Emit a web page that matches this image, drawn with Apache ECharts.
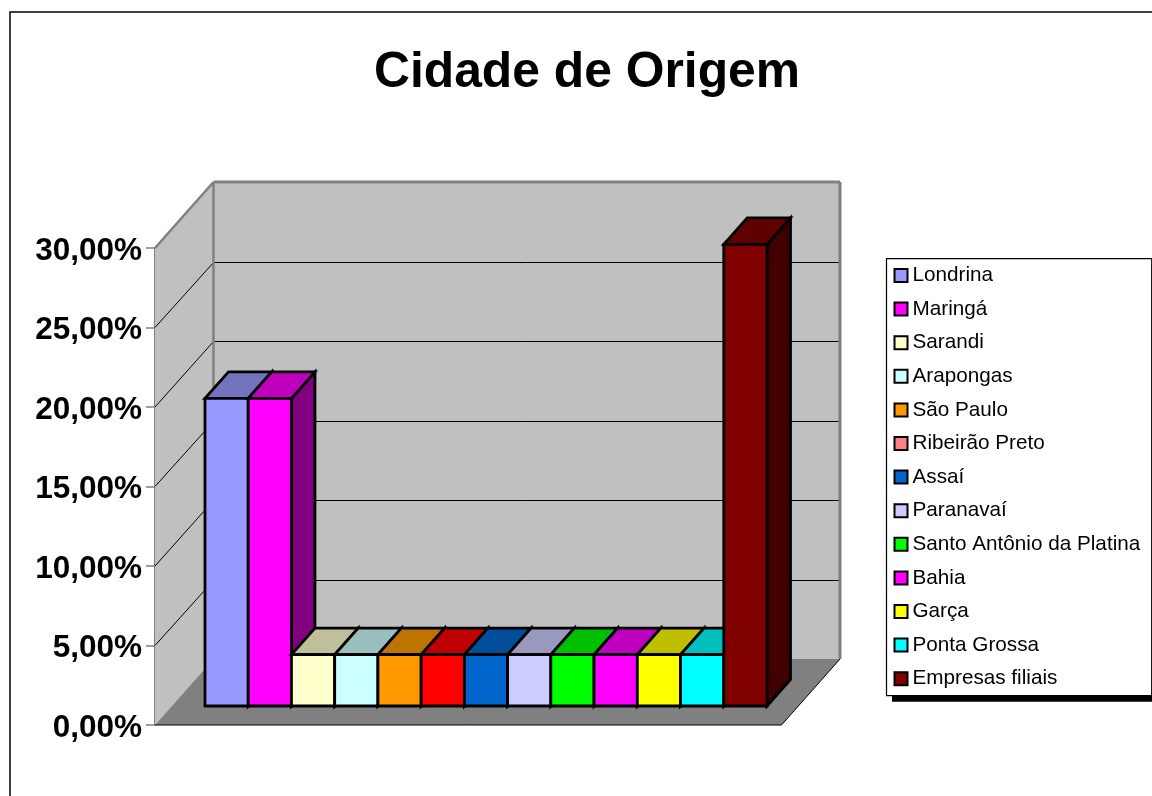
<!DOCTYPE html>
<html><head><meta charset="utf-8">
<style>html,body{margin:0;padding:0;background:#fff}#c{width:1152px;height:796px}</style>
<script src="https://cdn.jsdelivr.net/npm/echarts@6/dist/echarts.min.js"></script>
</head><body><div id="c"></div>
<script>
const cities = ['Londrina','Maringá','Sarandi','Arapongas','São Paulo','Ribeirão Preto','Assaí','Paranavaí','Santo Antônio da Platina','Bahia','Garça','Ponta Grossa','Empresas filiais'];
const shares = [19.35,19.35,3.23,3.23,3.23,3.23,3.23,3.23,3.23,3.23,3.23,3.23,29.03];
const barColors = ['#9999FF','#FF00FF','#FFFFCC','#CCFFFF','#FF9900','#FF0000','#0066CC','#CCCCFF','#00FF00','#FF00FF','#FFFF00','#00FFFF','#800000'];
const legendColors = ['#9999FF','#FF00FF','#FFFFCC','#CCFFFF','#FF9900','#FF8080','#0066CC','#CCCCFF','#00FF00','#FF00FF','#FFFF00','#00FFFF','#800000'];
const yTicks = [5,10,15,20,25,30];

const wallDepth = [58.5,-66], barDepth = [23.5,-26.5];
function shade(hex,f){const n=parseInt(hex.slice(1),16);
  return 'rgb('+[(n>>16)&255,(n>>8)&255,n&255].map(c=>Math.round(c*f)).join(',')+')';}

const chart = echarts.init(document.getElementById('c'));

function renderWalls(params, api){
  const bl = api.coord([0,0]), tr = api.coord([1,30]);
  const [dx,dy] = wallDepth;
  const poly=(pts,fill)=>({type:'polygon',shape:{points:pts},style:{fill:fill,stroke:null}});
  const line=(a,b,c,w)=>({type:'line',shape:{x1:a[0],y1:a[1],x2:b[0],y2:b[1]},style:{stroke:c,lineWidth:w}});
  const L=bl[0],R=tr[0],B=bl[1],T=tr[1];
  const kids=[
    poly([[L+dx,B+dy],[R+dx,B+dy],[R+dx,T+dy],[L+dx,T+dy]],'#C0C0C0'),
    poly([[L,B],[L+dx,B+dy],[L+dx,T+dy],[L,T]],'#C0C0C0'),
    poly([[L,B],[R,B],[R+dx,B+dy],[L+dx,B+dy]],'#808080')
  ];
  yTicks.slice(0,-1).forEach(v=>{
    const p=api.coord([0,v]);
    const yb=Math.round(p[1]+dy)+0.5;
    kids.push(line([p[0],p[1]],[p[0]+dx,yb],'#000',1));
    kids.push(line([p[0]+dx,yb],[R+dx,yb],'#000',1));
  });
  kids.push(line([L,B],[R,B],'#000',1));
  kids.push(line([R,B],[R+dx,B+dy],'#000',1));
  kids.push(line([L,T],[L+dx,T+dy],'#808080',2.5));
  kids.push(line([L+dx,T+dy],[R+dx,T+dy],'#808080',3));
  kids.push(line([L+dx,T+dy],[L+dx,B+dy],'#808080',2.5));
  kids.push(line([R+dx,T+dy],[R+dx,B+dy],'#808080',3));
  return {type:'group',children:kids};
}

function makeBar(i){
  return function(params, api){
    const idx=api.value(0), v=api.value(1);
    const base=api.coord([idx,0]), top=api.coord([idx,v]);
    const w=api.size([1,0])[0];
    const x0=base[0]-w/2, x1=base[0]+w/2, yb=base[1], yt=top[1];
    const [dx,dy]=barDepth;
    const col=barColors[i];
    const st=f=>({fill:f,stroke:'#000',lineWidth:2.8,lineJoin:'miter'});
    return {type:'group',children:[
      {type:'polygon',shape:{points:[[x1,yb],[x1+dx,yb+dy],[x1+dx,yt+dy],[x1,yt]]},style:st(shade(col,0.5))},
      {type:'polygon',shape:{points:[[x0,yt],[x1,yt],[x1+dx,yt+dy],[x0+dx,yt+dy]]},style:st(shade(col,0.75))},
      {type:'rect',shape:{x:x0,y:yt,width:w,height:yb-yt},style:st(col)}
    ]};
  };
}

const barSeries = cities.map((name,i)=>({
  type:'custom',name:name,xAxisIndex:1,yAxisIndex:1,
  coordinateSystem:'cartesian2d',z:5+i*0.01,silent:true,
  itemStyle:{color:legendColors[i]},
  encode:{x:0,y:1},
  data:[[i,shares[i]]],
  renderItem:makeBar(i)
}));

chart.setOption({
  animation:false,
  backgroundColor:'#fff',
  textStyle:{fontFamily:'"Liberation Sans"'},
  title:{text:'Cidade de Origem',left:582,top:43,textAlign:'center',
    textStyle:{fontFamily:'"Liberation Sans"',fontWeight:'bold',fontSize:49.8,color:'#000'}},
  graphic:[
    {type:'rect',z:-10,shape:{x:10,y:12,width:1300,height:900},style:{fill:null,stroke:'#000',lineWidth:1.5}},
    {type:'rect',z:0,shape:{x:892,y:264.7,width:300,height:437},style:{fill:'#000',stroke:null}}
  ],
  grid:[
    {left:155,top:248,width:626.5,height:477},
    {left:205,top:229,width:562,height:477}
  ],
  xAxis:[
    {gridIndex:0,type:'value',min:0,max:1,show:false},
    {gridIndex:1,type:'category',data:cities,show:false}
  ],
  yAxis:[
    {gridIndex:0,type:'value',min:0,max:30,interval:5,
     axisLine:{show:true,lineStyle:{color:'#808080',width:2}},
     axisTick:{show:true,length:9,lineStyle:{color:'#808080',width:1.5}},
     splitLine:{show:false},
     axisLabel:{margin:13,color:'#000',fontFamily:'"Liberation Sans"',fontWeight:'bold',fontSize:31.5,
       verticalAlign:'top',padding:[-13,0,0,0],
       formatter:v=>v.toFixed(2).replace('.',',')+'%'}},
    {gridIndex:1,type:'value',min:0,max:30,interval:5,show:false}
  ],
  legend:{
    orient:'vertical',left:886.5,top:258.7,z:6,
    padding:[6.3,11.5,6.5,7],
    itemWidth:13,itemHeight:13,itemGap:12.6,
    icon:'rect',selectedMode:false,
    backgroundColor:'#fff',borderColor:'#000',borderWidth:1.2,
    itemStyle:{borderColor:'#000',borderWidth:2},
    textStyle:{fontFamily:'"Liberation Sans"',fontSize:20.7,color:'#000'},
    data:cities.map(n=>({name:n}))
  },
  series:[{
    type:'custom',name:'walls',xAxisIndex:0,yAxisIndex:0,z:1,silent:true,
    encode:{x:0,y:1},data:[[0,0]],renderItem:renderWalls
  }].concat(barSeries)
});
</script></body></html>
